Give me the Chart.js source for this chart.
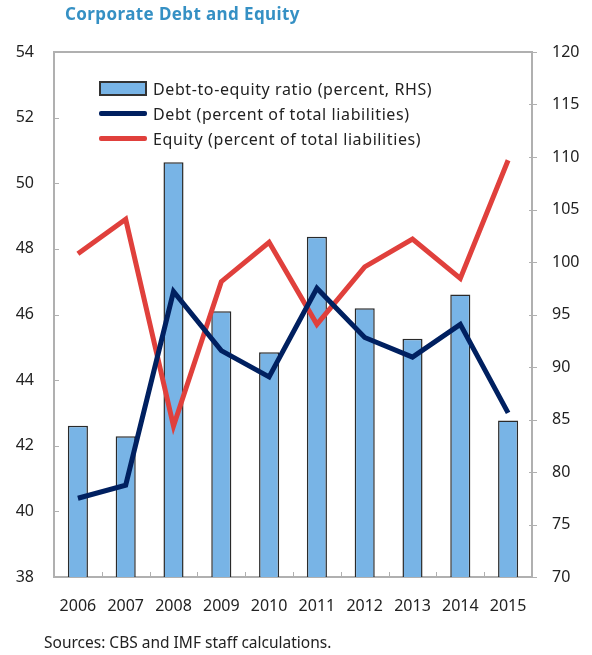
<!DOCTYPE html>
<html>
<head>
<meta charset="utf-8">
<script src="https://cdn.jsdelivr.net/npm/chart.js@4.4.3/dist/chart.umd.min.js"></script>
<style>
  html, body { margin: 0; padding: 0; background: #fff; }
  #wrap { position: relative; width: 592px; height: 655px; font-family: "Noto Sans", sans-serif; }
  #title { position: absolute; left: 65px; top: 2px; font-size: 17px; font-weight: bold; color: #3590c4; letter-spacing: 0.4px; }
  #source { position: absolute; left: 44px; top: 631px; font-size: 15.5px; color: #222; }
  #legend { position: absolute; left: 99px; top: 76px; font-size: 16px; color: #222; letter-spacing: 0.6px; }
  #legend div { height: 25px; display: flex; align-items: center; }
  #legend span.sw { display: inline-block; width: 48px; margin-right: 6px; }
  canvas { position: absolute; left: 0; top: 0; }
</style>
</head>
<body>
<div id="wrap">
  <canvas id="c" width="592" height="655"></canvas>
  <div id="title">Corporate Debt and Equity</div>
  <div id="legend">
    <div><span class="sw" style="height:11px;background:#78b4e6;border:2px solid #333;width:44px;"></span>Debt-to-equity ratio (percent, RHS)</div>
    <div><span class="sw" style="height:5px;background:#002060;border-radius:2px;"></span>Debt (percent of total liabilities)</div>
    <div><span class="sw" style="height:5px;background:#e0403c;border-radius:2px;"></span>Equity (percent of total liabilities)</div>
  </div>
  <div id="source">Sources: CBS and IMF staff calculations.</div>
</div>
<script>
// ---------- 数据 ----------
const years = ["2006", "2007", "2008", "2009", "2010", "2011", "2012", "2013", "2014", "2015"];
const debtToEquity = [84.4, 83.4, 109.5, 95.3, 91.4, 102.4, 95.6, 92.7, 96.9, 84.9];
const debt = [40.4, 40.8, 46.7, 44.9, 44.1, 46.8, 45.3, 44.7, 45.7, 43.0];
const equity = [47.85, 48.9, 42.6, 47.0, 48.2, 45.7, 47.45, 48.3, 47.1, 50.7];

const FONT = { family: "Noto Sans", size: 16 };
const AXIS = "#b0b0b0";

// 坐标框：顶边 + 向内的刻度
const framePlugin = {
  id: "frame",
  afterDraw(chart) {
    const { ctx, chartArea: a, scales } = chart;
    ctx.save();
    ctx.strokeStyle = AXIS;
    ctx.lineWidth = 2;
    ctx.beginPath();
    ctx.moveTo(a.left, a.top);
    ctx.lineTo(a.right, a.top);
    ctx.stroke();
    ctx.lineWidth = 1;
    ctx.beginPath();
    scales.y.ticks.forEach((t) => {
      const y = Math.round(scales.y.getPixelForValue(t.value)) + 0.5;
      ctx.moveTo(a.left, y);
      ctx.lineTo(a.left + 5, y);
    });
    scales.y1.ticks.forEach((t) => {
      const y = Math.round(scales.y1.getPixelForValue(t.value)) + 0.5;
      ctx.moveTo(a.right - 3, y);
      ctx.lineTo(a.right + 5, y);
    });
    for (let i = 1; i < years.length; i++) {
      const x = Math.round((scales.x.getPixelForValue(i - 1) + scales.x.getPixelForValue(i)) / 2) + 0.5;
      ctx.moveTo(x, a.bottom);
      ctx.lineTo(x, a.bottom - 5);
    }
    ctx.stroke();
    ctx.restore();
  },
};

new Chart(document.getElementById("c"), {
  data: {
    labels: years,
    datasets: [
      {
        type: "line",
        label: "Equity (percent of total liabilities)",
        data: equity,
        yAxisID: "y",
        borderColor: "#e0403c",
        borderWidth: 5,
        pointRadius: 0,
        tension: 0,
        order: 1,
      },
      {
        type: "line",
        label: "Debt (percent of total liabilities)",
        data: debt,
        yAxisID: "y",
        borderColor: "#002060",
        borderWidth: 5,
        pointRadius: 0,
        tension: 0,
        order: 0,
      },
      {
        type: "bar",
        label: "Debt-to-equity ratio (percent, RHS)",
        data: debtToEquity,
        yAxisID: "y1",
        backgroundColor: "#78b4e6",
        borderColor: "#2a2a2a",
        borderWidth: 1.5,
        categoryPercentage: 1,
        barPercentage: 0.42,
        order: 2,
      },
    ],
  },
  options: {
    responsive: false,
    animation: false,
    layout: { padding: { top: 52, left: 0, right: 0, bottom: 0 } },
    plugins: { legend: { display: false }, tooltip: { enabled: false } },
    scales: {
      x: {
        grid: { display: false, drawTicks: false },
        border: { color: AXIS, width: 2 },
        ticks: { font: FONT, color: "#222", padding: 20, maxRotation: 0, autoSkip: false },
        afterFit: (s) => { s.height = 78; },
      },
      y: {
        position: "left",
        min: 38,
        max: 54,
        grid: { display: false, drawTicks: false },
        border: { color: AXIS, width: 2 },
        ticks: { stepSize: 2, font: FONT, color: "#222", padding: 20 },
        afterFit: (s) => { s.width = 54; },
      },
      y1: {
        position: "right",
        min: 70,
        max: 120,
        grid: { display: false, drawTicks: false },
        border: { color: AXIS, width: 2 },
        ticks: { stepSize: 5, font: FONT, color: "#222", padding: 20 },
        afterFit: (s) => { s.width = 60; },
      },
    },
  },
  plugins: [framePlugin],
});
</script>
</body>
</html>
